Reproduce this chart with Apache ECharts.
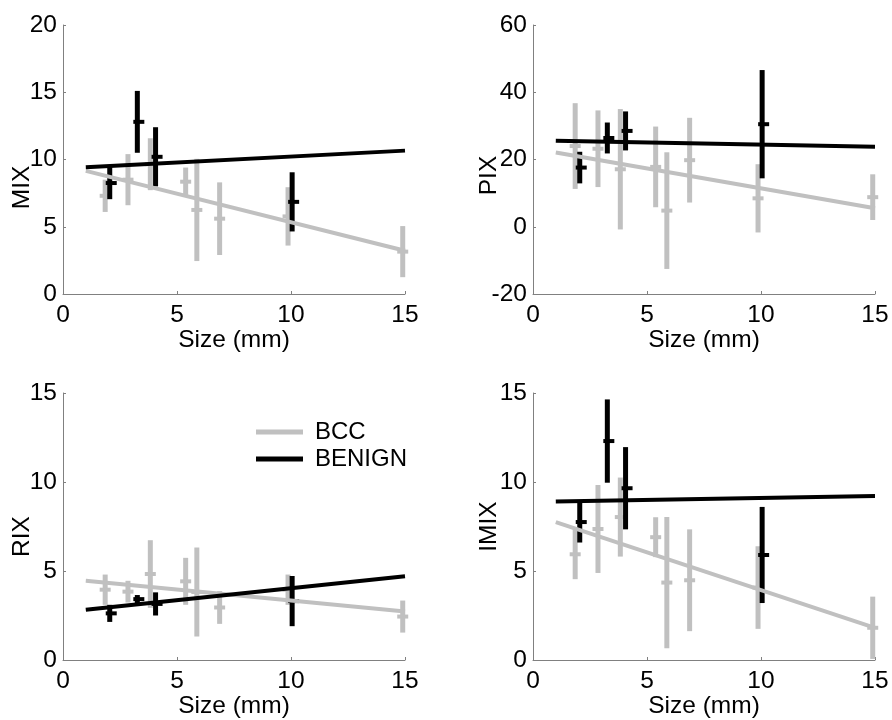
<!DOCTYPE html>
<html>
<head>
<meta charset="utf-8">
<title>Index vs lesion size</title>
<script src="https://cdn.jsdelivr.net/npm/echarts@6/dist/echarts.min.js"></script>
<style>
  html, body { margin: 0; padding: 0; background: #fff; }
  #chart { width: 892px; height: 720px; }
</style>
</head>
<body>
<div id="chart"></div>
<script>
// lesion sizes (mm) for each group, and the x range of the fitted lines
var bccSize = [1.85, 2.85, 3.83, 5.38, 5.87, 6.87, 9.87, 14.9];
var benignSize = [2.05, 3.26, 4.06, 10.05];
var fitSize = [1, 15];
var xTicks = [0, 5, 10, 15];

// MIX
var mixBccMean = [7.3, 8.5, 9.65, 8.35, 6.25, 5.6, 5.77, 3.15];
var mixBccErr = [1.2, 1.9, 1.93, 1.05, 3.8, 2.7, 2.17, 1.9];
var mixBenignMean = [8.25, 12.8, 10.2, 6.85];
var mixBenignErr = [1.2, 2.3, 2.2, 2.2];
var mixBccFit = [9.15, 3.22];
var mixBenignFit = [9.42, 10.66];

// PIX
var pixBccMean = [24.0, 23.2, 17.1, 17.8, 4.8, 19.8, 8.45, 8.8];
var pixBccErr = [12.75, 11.4, 17.9, 12.0, 17.35, 12.6, 10.15, 6.8];
var pixBenignMean = [17.6, 26.4, 28.5, 30.5];
var pixBenignErr = [4.7, 4.6, 5.8, 16.1];
var pixBccFit = [22.1, 5.5];
var pixBenignFit = [25.6, 23.8];

// RIX
var rixBccMean = [3.95, 3.84, 4.83, 4.42, 3.82, 2.95, 3.95, 2.44];
var rixBccErr = [0.85, 0.61, 1.9, 1.32, 2.5, 0.92, 0.85, 0.9];
var rixBenignMean = [2.62, 3.42, 3.15, 3.31];
var rixBenignErr = [0.48, 0.23, 0.65, 1.41];
var rixBccFit = [4.45, 2.73];
var rixBenignFit = [2.82, 4.7];

// IMIX
var imixBccMean = [5.94, 7.36, 8.03, 6.9, 4.35, 4.48, 4.07, 1.81];
var imixBccErr = [1.4, 2.47, 2.22, 1.12, 3.69, 2.86, 2.32, 1.75];
var imixBenignMean = [7.75, 12.3, 9.65, 5.9];
var imixBenignErr = [1.15, 2.34, 2.31, 2.7];
var imixBccFit = [7.75, 1.81];
var imixBenignFit = [8.91, 9.22];

// y axis names and tick ranges
var yNames = ['MIX', 'PIX', 'RIX', 'IMIX'];
var yMin = [0, -20, 0, 0];
var yMax = [20, 60, 15, 15];
var yStep = [5, 20, 5, 5];

var GRAY = '#c0c0c0';
var BLACK = '#000000';
var AXIS = '#808080';
var FONT = 'Liberation Sans, Arial, Helvetica, sans-serif';
var FS = 24.5;

var panels = [
  { bccMean: mixBccMean, bccErr: mixBccErr, benMean: mixBenignMean, benErr: mixBenignErr, bccFit: mixBccFit, benFit: mixBenignFit },
  { bccMean: pixBccMean, bccErr: pixBccErr, benMean: pixBenignMean, benErr: pixBenignErr, bccFit: pixBccFit, benFit: pixBenignFit },
  { bccMean: rixBccMean, bccErr: rixBccErr, benMean: rixBenignMean, benErr: rixBenignErr, bccFit: rixBccFit, benFit: rixBenignFit },
  { bccMean: imixBccMean, bccErr: imixBccErr, benMean: imixBenignMean, benErr: imixBenignErr, bccFit: imixBccFit, benFit: imixBenignFit }
];

// grid boxes: left, top, width, height
var grids = [
  { left: 63, top: 25, width: 342, height: 269 },
  { left: 533, top: 25, width: 342, height: 269 },
  { left: 63, top: 393, width: 342, height: 271 },
  { left: 533, top: 393, width: 342, height: 271 }
];
var nameGaps = [28, 31, 28, 31];
var nameShift = [56, 32, 20, 0];

function errorBars(color, tickShift) {
  return function (params, api) {
    var x = api.value(0), m = api.value(1), e = api.value(2);
    var top = api.coord([x, m + e]);
    var bot = api.coord([x, m - e]);
    var mid = api.coord([x, m]);
    return {
      type: 'group',
      children: [
        { type: 'line', shape: { x1: top[0], y1: top[1], x2: bot[0], y2: bot[1] }, style: { stroke: color, lineWidth: 5 } },
        { type: 'line', shape: { x1: mid[0] - 5.5 + tickShift, y1: mid[1], x2: mid[0] + 5.5 + tickShift, y2: mid[1] }, style: { stroke: color, lineWidth: 4 } }
      ]
    };
  };
}

function zip(xs, a, b) {
  return xs.map(function (x, i) { return b ? [x, a[i], b[i]] : [x, a[i]]; });
}

var xAxes = [], yAxes = [], series = [];
panels.forEach(function (p, i) {
  xAxes.push({
    gridIndex: i, type: 'value', min: xTicks[0], max: xTicks[xTicks.length - 1], interval: 5,
    name: 'Size (mm)', nameLocation: 'middle', nameGap: 34, nameMoveOverlap: false,
    nameTextStyle: { fontFamily: FONT, fontSize: FS, color: '#000' },
    axisLine: { onZero: false, lineStyle: { color: AXIS, width: 1 } },
    axisTick: { inside: true, length: 3, lineStyle: { color: AXIS } },
    axisLabel: { margin: 9, fontFamily: FONT, fontSize: FS, color: '#000' },
    splitLine: { show: false }
  });
  yAxes.push({
    gridIndex: i, type: 'value', min: yMin[i], max: yMax[i], interval: yStep[i],
    name: yNames[i], nameLocation: 'middle', nameGap: nameGaps[i], nameMoveOverlap: false,
    nameTextStyle: { fontFamily: FONT, fontSize: FS, color: '#000', padding: [0, nameShift[i], 0, 0] },
    axisLine: { show: true, onZero: false, lineStyle: { color: AXIS, width: 1 } },
    axisTick: { show: true, inside: true, length: 3, lineStyle: { color: AXIS } },
    axisLabel: { margin: 6, fontFamily: FONT, fontSize: FS, color: '#000' },
    splitLine: { show: false }
  });
  series.push(
    {
      name: 'BCC', type: 'custom', xAxisIndex: i, yAxisIndex: i,
      renderItem: errorBars(GRAY, 0), itemStyle: { color: GRAY },
      data: zip(bccSize, p.bccMean, p.bccErr)
    },
    {
      name: 'BCC', type: 'line', xAxisIndex: i, yAxisIndex: i, symbol: 'none',
      itemStyle: { color: GRAY }, lineStyle: { color: GRAY, width: 4 },
      data: zip(fitSize, p.bccFit)
    },
    {
      name: 'BENIGN', type: 'custom', xAxisIndex: i, yAxisIndex: i,
      renderItem: errorBars(BLACK, 1.5), itemStyle: { color: BLACK },
      data: zip(benignSize, p.benMean, p.benErr)
    },
    {
      name: 'BENIGN', type: 'line', xAxisIndex: i, yAxisIndex: i, symbol: 'none',
      itemStyle: { color: BLACK }, lineStyle: { color: BLACK, width: 4 },
      data: zip(fitSize, p.benFit)
    }
  );
});

var chart = echarts.init(document.getElementById('chart'));
chart.setOption({
  animation: false,
  backgroundColor: '#fff',
  grid: grids,
  xAxis: xAxes,
  yAxis: yAxes,
  legend: {
    orient: 'vertical', left: 256, top: 420, padding: 0,
    itemWidth: 47, itemHeight: 5, itemGap: 3, icon: 'rect',
    selectedMode: false,
    textStyle: { fontFamily: FONT, fontSize: 24, color: '#000', padding: [0, 0, 0, 7] },
    data: [
      { name: 'BCC', itemStyle: { color: GRAY } },
      { name: 'BENIGN', itemStyle: { color: BLACK } }
    ]
  },
  series: series
});
</script>
</body>
</html>
